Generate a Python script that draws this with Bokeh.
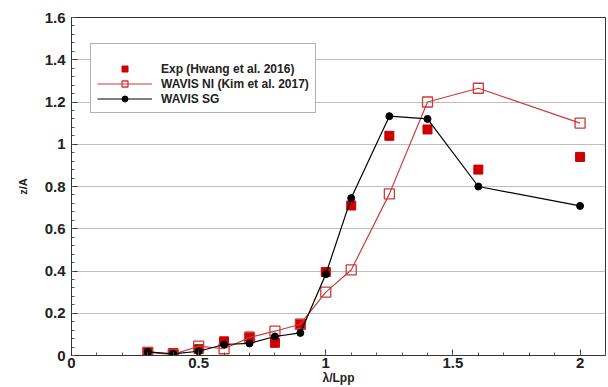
from bokeh.plotting import figure
from bokeh.models import Legend, LegendItem, CustomJSTickFormatter, Range1d
from bokeh.embed import file_html
from bokeh.resources import INLINE

lam = [0.3, 0.4, 0.5, 0.6, 0.7, 0.8, 0.9, 1.0, 1.1, 1.25, 1.4, 1.6, 2.0]
exp_z = [0.017, 0.012, 0.03, 0.067, 0.09, 0.06, 0.15, 0.395, 0.71, 1.04, 1.07, 0.88, 0.94]
ni_z = [0.015, 0.005, 0.044, 0.032, 0.085, 0.115, 0.148, 0.30, 0.405, 0.765, 1.20, 1.265, 1.10]
sg_z = [0.017, 0.008, 0.02, 0.052, 0.057, 0.09, 0.107, 0.385, 0.745, 1.133, 1.12, 0.80, 0.708]

FONT = "Liberation Sans"

p = figure(width=608, height=387, output_backend="svg", toolbar_location=None,
           x_range=Range1d(0, 2.1), y_range=Range1d(0, 1.6),
           min_border_left=71, min_border_right=3, min_border_top=17, min_border_bottom=31)

p.background_fill_color = "white"
p.border_fill_color = "white"
p.outline_line_color = "#333333"
p.outline_line_width = 1

fmt = CustomJSTickFormatter(code="return String(Math.round(tick*10)/10);")

p.xaxis.ticker.desired_num_ticks = 5
p.xaxis.ticker.num_minor_ticks = 5
p.yaxis.ticker.desired_num_ticks = 8
p.yaxis.ticker.num_minor_ticks = 5
p.xaxis.formatter = fmt
p.yaxis.formatter = fmt

for ax in (p.xaxis[0], p.yaxis[0]):
    ax.major_tick_in = 6
    ax.major_tick_out = 0
    ax.minor_tick_in = 3
    ax.minor_tick_out = 0
    ax.axis_line_color = "#333333"
    ax.major_tick_line_color = "#333333"
    ax.minor_tick_line_color = "#555555"
    ax.major_label_text_font = FONT
    ax.major_label_text_font_style = "bold"
    ax.major_label_text_color = "#222222"
    ax.axis_label_text_font = FONT
    ax.axis_label_text_font_style = "bold"
    ax.axis_label_text_color = "#222222"

p.xaxis.major_label_text_font_size = "15px"
p.yaxis.major_label_text_font_size = "15px"
p.xaxis.major_label_standoff = 2
p.yaxis.major_label_standoff = 6
p.xaxis.axis_label = "λ/Lpp"
p.yaxis.axis_label = "z/A"
p.xaxis.axis_label_text_font_size = "12px"
p.yaxis.axis_label_text_font_size = "11px"
p.xaxis.axis_label_standoff = 0
p.yaxis.axis_label_standoff = 13

p.xgrid.grid_line_color = None
p.ygrid.grid_line_color = "#bdbdbd"
p.ygrid.grid_line_width = 1

RED = "#cc0000"
NI_RED = "#cc3a3a"

r_exp = p.scatter(lam, exp_z, marker="square", size=9, fill_color=RED, line_color=RED)
r_ni_l = p.line(lam, ni_z, line_color=NI_RED, line_width=1.2)
r_ni_m = p.scatter(lam, ni_z, marker="square", size=10, fill_color="white", fill_alpha=0.0,
                   line_color=NI_RED, line_width=1.3)
r_sg_l = p.line(lam, sg_z, line_color="black", line_width=1.2)
r_sg_m = p.scatter(lam, sg_z, marker="circle", size=7, fill_color="black", line_color="black")

legend = Legend(items=[
    LegendItem(label="Exp (Hwang et al. 2016)", renderers=[r_exp]),
    LegendItem(label="WAVIS NI (Kim et al. 2017)", renderers=[r_ni_l, r_ni_m]),
    LegendItem(label="WAVIS SG", renderers=[r_sg_l, r_sg_m]),
], location=(19, 242))
legend.title = " "
legend.title_text_font_size = "10px"
legend.title_standoff = 0
legend.label_text_font = FONT
legend.label_text_font_style = "bold"
legend.label_text_font_size = "12px"
legend.label_text_color = "#222222"
legend.glyph_width = 55
legend.glyph_height = 15
legend.label_height = 15
legend.spacing = 0
legend.label_standoff = 9
legend.padding = 6
legend.margin = 0
legend.border_line_color = "#666666"
legend.border_line_width = 1
legend.background_fill_alpha = 1.0
p.add_layout(legend, "center")

open("out.html", "w").write(file_html(p, INLINE))
